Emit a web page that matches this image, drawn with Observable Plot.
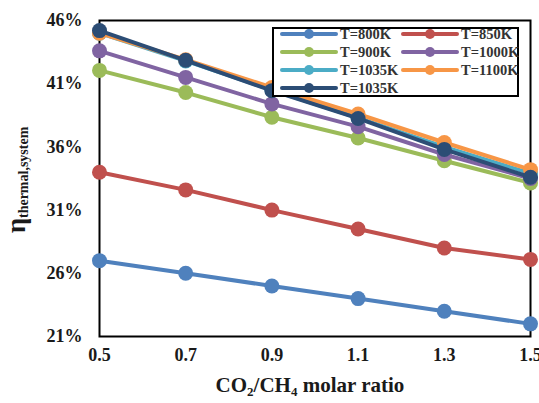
<!DOCTYPE html>
<html>
<head>
<meta charset="utf-8">
<script src="https://cdn.jsdelivr.net/npm/d3@7"></script>
<script src="https://cdn.jsdelivr.net/npm/@observablehq/plot@0.6"></script>
<style>
  body { margin: 0; background: #fff; }
  #wrap { position: relative; width: 539px; height: 403px; font-family: "Liberation Serif", "Times New Roman", serif; }
  #legend { position: absolute; left: 272px; top: 27px; }
</style>
</head>
<body>
<div id="wrap"></div>
<script>
const ratios = [0.5, 0.7, 0.9, 1.1, 1.3, 1.5];
const seriesNames = ["T=800K", "T=850K", "T=900K", "T=1000K", "T=1035K ", "T=1100K", "T=1035K"];
const seriesColors = ["#4F81BD", "#C0504D", "#9BBB59", "#8064A2", "#4BACC6", "#F79646", "#2C4D75"];
const t800  = [27.0, 26.0, 25.0, 24.0, 23.0, 22.0];
const t850  = [34.0, 32.6, 31.0, 29.5, 28.0, 27.1];
const t900  = [42.05, 40.3, 38.35, 36.7, 34.9, 33.15];
const t1000 = [43.6, 41.5, 39.4, 37.6, 35.4, 33.5];
const t1035a = [45.0, 42.8, 40.5, 38.3, 36.0, 33.9];
const t1100 = [45.0, 42.9, 40.7, 38.6, 36.35, 34.2];
const t1035b = [45.2, 42.85, 40.45, 38.25, 35.8, 33.6];
const yTicks = [21, 26, 31, 36, 41, 46];
const xTicks = [0.5, 0.7, 0.9, 1.1, 1.3, 1.5];

const allSeries = [t800, t850, t900, t1000, t1035a, t1100, t1035b];
const data = [];
allSeries.forEach((vals, si) => vals.forEach((v, i) => data.push({series: seriesNames[si], x: ratios[i], y: v})));

const chart = Plot.plot({
  width: 539, height: 403,
  marginLeft: 99, marginRight: 9, marginTop: 20, marginBottom: 67,
  style: {fontFamily: '"Liberation Serif", "Times New Roman", serif', background: "#fff", overflow: "visible"},
  x: {domain: [0.5, 1.5], ticks: xTicks, tickFormat: d => d.toFixed(1), tickSize: 0, tickPadding: 12, label: null},
  y: {domain: [21, 46], ticks: yTicks, tickFormat: d => d + "%", tickSize: 0, tickPadding: 17, label: null},
  color: {domain: seriesNames, range: seriesColors},
  marks: [
    Plot.frame({stroke: "#000", strokeWidth: 2}),
    ...seriesNames.flatMap(name => [
      Plot.line(data.filter(d => d.series === name), {x: "x", y: "y", stroke: "series", strokeWidth: 4}),
      Plot.dot(data.filter(d => d.series === name), {x: "x", y: "y", fill: "series", r: 7.5})
    ])
  ],
});
document.getElementById("wrap").appendChild(chart);

const svg = d3.select(chart);
svg.selectAll("[aria-label='x-axis tick label'] text, [aria-label='y-axis tick label'] text")
  .style("font-size", "18px").style("font-weight", "bold").attr("fill", "#1a1a1a");

// axis titles
svg.append("text")
  .attr("x", 310).attr("y", 392).attr("text-anchor", "middle")
  .style("font-size", "21px").style("font-weight", "bold").attr("fill", "#1a1a1a")
  .call(t => {
    t.append("tspan").text("CO");
    t.append("tspan").text("2").attr("font-size", "13px").attr("dy", 4);
    t.append("tspan").text("/CH").attr("dy", -4);
    t.append("tspan").text("4").attr("font-size", "13px").attr("dy", 4);
    t.append("tspan").text(" molar ratio").attr("dy", -4);
  });
svg.append("text")
  .attr("transform", "translate(25,180) rotate(-90)").attr("text-anchor", "middle")
  .style("font-weight", "bold").attr("fill", "#1a1a1a")
  .call(t => {
    t.append("tspan").text("η").attr("font-size", "27px");
    t.append("tspan").text("thermal,system").attr("font-size", "14px").attr("dy", 3);
  });

// legend
const lw = 247, lh = 70;
const leg = d3.select("#wrap").append("svg").attr("id", "legend").attr("width", lw).attr("height", lh);
leg.append("rect").attr("x", 1).attr("y", 1).attr("width", lw - 2).attr("height", lh - 2)
  .attr("fill", "#fff").attr("stroke", "#000").attr("stroke-width", 2);
seriesNames.forEach((name, i) => {
  const col = i % 2, row = Math.floor(i / 2);
  const x0 = col === 0 ? 10 : 131;
  const y0 = 7 + row * 18;
  const g = leg.append("g");
  g.append("line").attr("x1", x0).attr("x2", x0 + 54).attr("y1", y0).attr("y2", y0)
    .attr("stroke", seriesColors[i]).attr("stroke-width", 4).attr("stroke-linecap", "round");
  g.append("circle").attr("cx", x0 + 27).attr("cy", y0).attr("r", 5).attr("fill", seriesColors[i]);
  g.append("text").attr("x", x0 + 58).attr("y", y0 + 5).text(name.trim())
    .style("font-family", '"Liberation Serif", "Times New Roman", serif')
    .style("font-size", "14.5px").style("font-weight", "bold").attr("fill", "#333");
});
</script>
</body>
</html>
